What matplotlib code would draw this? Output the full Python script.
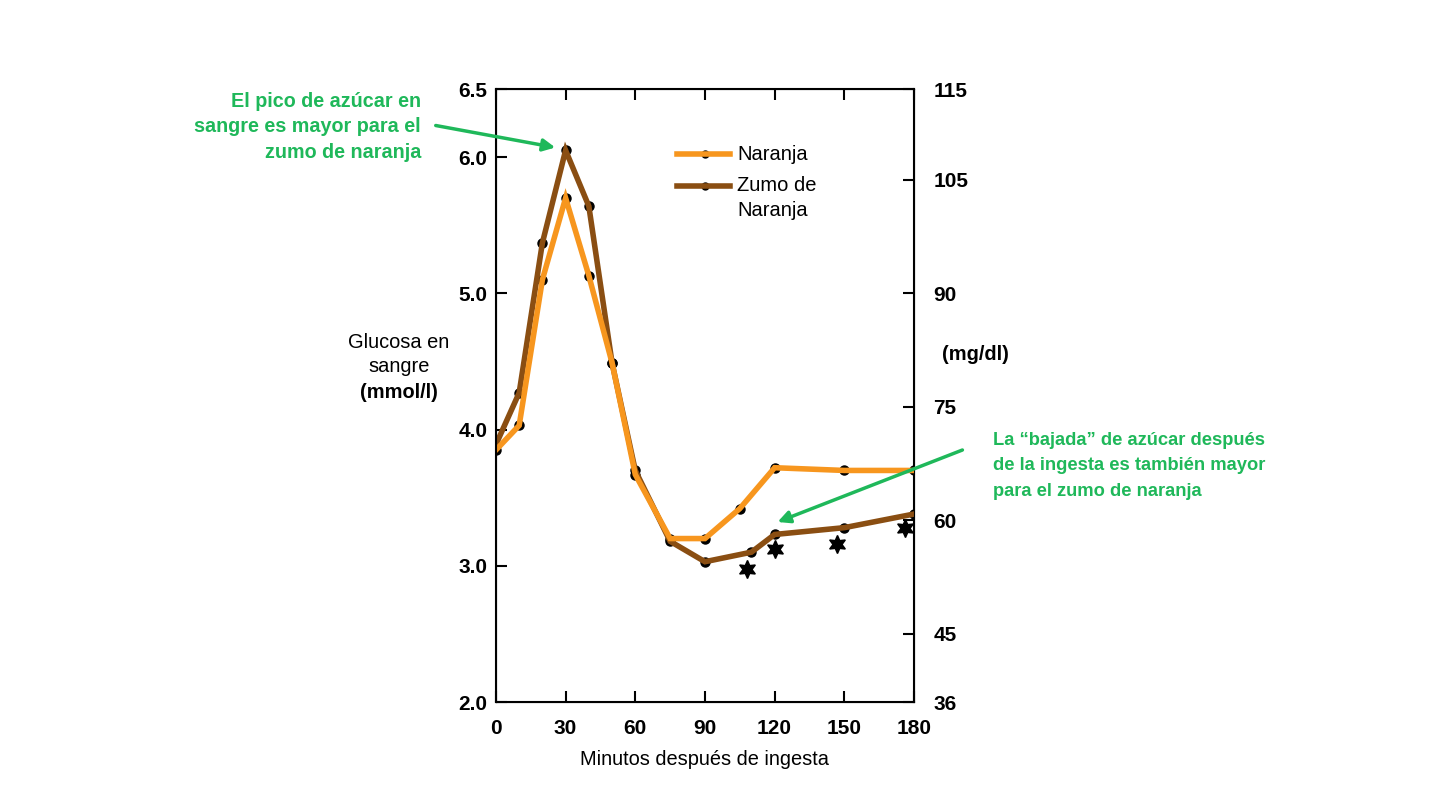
import matplotlib
matplotlib.use("Agg")
import matplotlib.pyplot as plt

plt.rcParams['font.family'] = ['Liberation Sans', 'DejaVu Sans']

# datos (minutos, mmol/l)
t_naranja = [0, 10, 20, 30, 40, 50, 60, 75, 90, 105, 120, 150, 180]
g_naranja = [3.85, 4.03, 5.10, 5.70, 5.13, 4.49, 3.67, 3.20, 3.20, 3.42, 3.72, 3.70, 3.70]

t_zumo = [0, 10, 20, 30, 40, 50, 60, 75, 90, 110, 120, 150, 180]
g_zumo = [3.89, 4.27, 5.37, 6.05, 5.64, 4.49, 3.70, 3.18, 3.03, 3.10, 3.23, 3.28, 3.38]

# asteriscos (diferencias significativas)
t_star = [108, 120, 147, 176]
g_star = [2.98, 3.12, 3.16, 3.28]

x_ticks = [0, 30, 60, 90, 120, 150, 180]
y_ticks = [2.0, 3.0, 4.0, 5.0, 6.0, 6.5]
mg_pos = [2.0, 2.5, 3.333, 4.167, 5.0, 5.833, 6.5]
mg_labels = ['36', '45', '60', '75', '90', '105', '115']

c_naranja = '#F7961E'
c_zumo = '#8A4E12'
c_verde = '#1FB85A'

fig = plt.figure(figsize=(14.4, 8.1), dpi=100)
ax = fig.add_axes([0.3444, 0.1333, 0.2903, 0.7568])

ax.plot(t_zumo, g_zumo, 'o', color='black', ms=6.5, zorder=2)
ax.plot(t_naranja, g_naranja, 'o', color='black', ms=6.5, zorder=2)
ax.plot(t_zumo, g_zumo, '-', color=c_zumo, lw=4, zorder=3, solid_joinstyle='miter')
ax.plot(t_naranja, g_naranja, '-', color=c_naranja, lw=4, zorder=4, solid_joinstyle='miter')
ax.plot(t_star, g_star, linestyle='none', marker=(6, 1, 0), color='black', ms=13, zorder=5)

ax.set_xlim(0, 180)
ax.set_ylim(2.0, 6.5)
ax.set_xticks(x_ticks)
ax.set_yticks(y_ticks)
ax.set_yticklabels([f'{v:.1f}' for v in y_ticks])
ax.tick_params(direction='in', length=8, width=1.5, top=True, right=False,
               labelsize=15, pad=6)
ax.tick_params(axis='x', pad=12)
for lbl in ax.get_yticklabels() + ax.get_xticklabels():
    lbl.set_fontweight('bold')
for s in ax.spines.values():
    s.set_linewidth(1.5)

ax2 = ax.twinx()
ax2.set_ylim(2.0, 6.5)
ax2.set_yticks(mg_pos)
ax2.set_yticklabels(mg_labels, fontweight='bold')
ax2.tick_params(direction='in', length=8, width=1.5, labelsize=15, pad=14)

ax.set_xlabel('Minutos después de ingesta', fontsize=14.4, labelpad=9)

# leyenda
ax.plot([78, 101], [6.02, 6.02], '-', color=c_naranja, lw=4, zorder=4)
ax.plot([90], [6.02], 'o', color='black', ms=5, zorder=3)
ax.plot([78, 101], [5.79, 5.79], '-', color=c_zumo, lw=4, zorder=4)
ax.plot([90], [5.79], 'o', color='black', ms=5, zorder=3)
ax.text(104, 6.02, 'Naranja', fontsize=14.5, va='center')
ax.text(104, 5.79, 'Zumo de', fontsize=14.5, va='center')
ax.text(104, 5.61, 'Naranja', fontsize=14.5, va='center')

fig.text(399 / 1440, 1 - 342 / 810, 'Glucosa en', fontsize=14.4, ha='center', va='center')
fig.text(399 / 1440, 1 - 367 / 810, 'sangre', fontsize=14.4, ha='center', va='center')
fig.text(399 / 1440, 1 - 392 / 810, '(mmol/l)', fontsize=14.4, ha='center',
         va='center', fontweight='bold')
fig.text(975 / 1440, 1 - 355 / 810, '(mg/dl)', fontsize=14.4, ha='center',
         va='center', fontweight='bold')

# anotaciones en verde
fig.text(421 / 1440, 1 - 127 / 810,
         'El pico de azúcar en\nsangre es mayor para el\nzumo de naranja',
         fontsize=14.2, ha='right', va='center', color=c_verde,
         fontweight='bold', linespacing=1.45)
fig.text(993 / 1440, 1 - 466 / 810,
         'La “bajada” de azúcar después\nde la ingesta es también mayor\npara el zumo de naranja',
         fontsize=13.2, ha='left', va='center', color=c_verde,
         fontweight='bold', linespacing=1.65)

fig.add_artist(matplotlib.patches.FancyArrowPatch(
    (433 / 1440, 1 - 125 / 810), (558 / 1440, 1 - 148 / 810),
    transform=fig.transFigure, arrowstyle='-|>', mutation_scale=18,
    color=c_verde, lw=2.5))
fig.add_artist(matplotlib.patches.FancyArrowPatch(
    (965 / 1440, 1 - 449 / 810), (775 / 1440, 1 - 523 / 810),
    transform=fig.transFigure, arrowstyle='-|>', mutation_scale=18,
    color=c_verde, lw=2.5))

fig.savefig('out.png', dpi=100)
